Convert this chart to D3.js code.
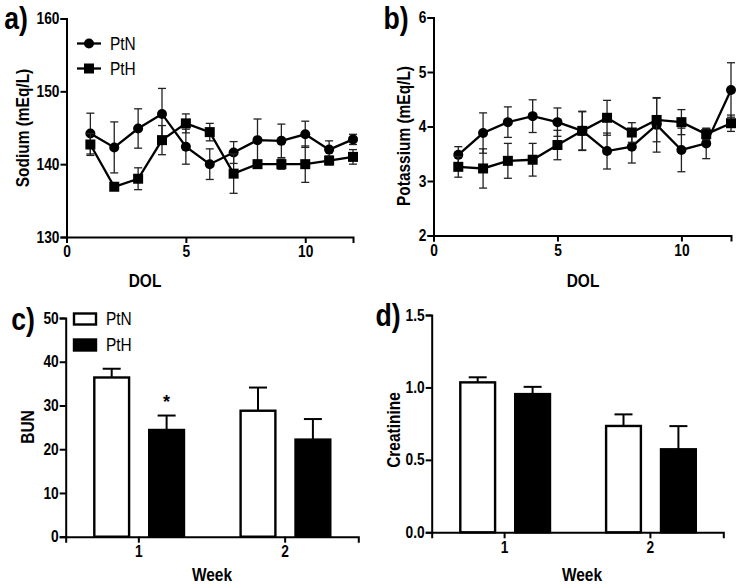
<!DOCTYPE html>
<html>
<head>
<meta charset="utf-8">
<script src="https://cdn.jsdelivr.net/npm/d3@7/dist/d3.min.js"></script>
<style>
  body { margin: 0; background: #fff; }
  svg { display: block; font-family: "Liberation Sans", Arial, sans-serif; }
  .axis path, .axis line { stroke: #000; stroke-width: 2px; }
</style>
</head>
<body>
<svg id="fig" width="739" height="586"></svg>
<script>
// day of life
const dol = [1, 2, 3, 4, 5, 6, 7, 8, 9, 10, 11, 12];

// a) sodium
const naPtN    = [144.2, 142.3, 144.9, 146.9, 142.4, 140.0, 141.6, 143.3, 143.2, 144.1, 142.0, 143.4];
const naPtNErr = [2.8, 3.5, 2.7, 3.5, 2.4, 2.1, 1.5, 2.9, 2.3, 1.8, 1.2, 0.7];
const naPtH    = [142.7, 136.9, 138.0, 143.3, 145.6, 144.4, 138.7, 140.0, 140.0, 140.0, 140.5, 141.0];
const naPtHErr = [1.5, 0.3, 1.5, 2.0, 1.3, 1.2, 2.7, 0.5, 0.7, 2.5, 0.6, 1.0];

// b) potassium
const kPtN    = [3.48, 3.88, 4.08, 4.19, 4.08, 3.92, 3.55, 3.63, 4.03, 3.57, 3.69, 4.67];
const kPtNErr = [0.15, 0.37, 0.28, 0.30, 0.26, 0.36, 0.33, 0.30, 0.50, 0.40, 0.28, 0.50];
const kPtH    = [3.26, 3.23, 3.37, 3.39, 3.66, 3.92, 4.16, 3.89, 4.12, 4.08, 3.86, 4.06];
const kPtHErr = [0.19, 0.36, 0.32, 0.30, 0.27, 0.35, 0.32, 0.18, 0.40, 0.23, 0.10, 0.15];

// c), d) weekly bars
const weeks = ["1", "2"];
const groups = ["PtN", "PtH"];
const bunPtN = [36.4, 28.8], bunPtNErr = [2.0, 5.3];
const bunPtH = [24.4, 22.2], bunPtHErr = [3.3, 4.7];
const crPtN = [1.035, 0.734], crPtNErr = [0.035, 0.08];
const crPtH = [0.954, 0.573], crPtHErr = [0.05, 0.16];

const svg = d3.select("#fig");
const SX = 0.86; // text in the figure is a bit narrow

function narrowText(sel) {
    sel.each(function() {
        let t = d3.select(this);
        let x = +t.attr("x") || 0;
        t.attr("x", x / SX).attr("transform", "scale(" + SX + ",1)")
            .style("font-size", "16px").style("font-weight", "bold").style("fill", "#000");
    });
}

function addLabel(txt, x, y, size, rot, weight) {
    let g = svg.append("g").attr("transform", "translate(" + x + "," + y + ")" + (rot ? " rotate(-90)" : ""));
    g.append("text")
        .text(txt)
        .attr("text-anchor", "middle")
        .attr("transform", "scale(" + SX + ",1)")
        .style("font-size", size + "px")
        .style("font-weight", weight || "bold")
        .style("fill", "#000");
}

function drawAxes(x, y, yTicks, yFmt, xAxis) {
    let xr = x.range(), yr = y.range();
    svg.append("g")
        .attr("class", "axis")
        .attr("transform", "translate(0," + yr[0] + ")")
        .call(xAxis.tickSizeOuter(0).tickSize(6).tickPadding(3))
        .selectAll("text").call(narrowText);
    svg.append("g")
        .attr("class", "axis")
        .attr("transform", "translate(" + xr[0] + ",0)")
        .call(d3.axisLeft(y).tickValues(yTicks).tickFormat(yFmt).tickSizeOuter(0).tickSize(6).tickPadding(1))
        .selectAll("text").call(narrowText);
}

function lineSeries(x, y, vals, errs, shape) {
    let pts = dol.map(function(d, i) { return {d: d, v: vals[i], e: errs[i]}; });
    let g = svg.append("g");
    // error bars
    let eb = g.selectAll("g.eb").data(pts).enter().append("g")
        .attr("stroke", "#222").attr("stroke-width", 1.3);
    eb.append("line")
        .attr("x1", function(p) { return x(p.d); }).attr("x2", function(p) { return x(p.d); })
        .attr("y1", function(p) { return y(p.v - p.e); }).attr("y2", function(p) { return y(p.v + p.e); });
    [-1, 1].forEach(function(s) {
        eb.append("line")
            .attr("x1", function(p) { return x(p.d) - 4; }).attr("x2", function(p) { return x(p.d) + 4; })
            .attr("y1", function(p) { return y(p.v + s * p.e); }).attr("y2", function(p) { return y(p.v + s * p.e); });
    });
    g.append("path")
        .datum(pts)
        .attr("fill", "none").attr("stroke", "#000").attr("stroke-width", 2.3)
        .attr("d", d3.line().x(function(p) { return x(p.d); }).y(function(p) { return y(p.v); }));
    if (shape == "circle") {
        g.selectAll("circle").data(pts).enter().append("circle")
            .attr("cx", function(p) { return x(p.d); }).attr("cy", function(p) { return y(p.v); })
            .attr("r", 5).attr("fill", "#000");
    } else {
        g.selectAll("rect").data(pts).enter().append("rect")
            .attr("x", function(p) { return x(p.d) - 5; }).attr("y", function(p) { return y(p.v) - 5; })
            .attr("width", 10).attr("height", 10).attr("fill", "#000");
    }
}

function barChart(x, y, sub, ptn, ptnErr, pth, pthErr) {
    let rows = [];
    weeks.forEach(function(w, i) {
        rows.push({w: w, grp: "PtN", v: ptn[i], e: ptnErr[i]});
        rows.push({w: w, grp: "PtH", v: pth[i], e: pthErr[i]});
    });
    let bx = function(r) { return x(r.w) + sub(r.grp); };
    let bw = sub.bandwidth();
    let g = svg.append("g");
    g.selectAll("line.err").data(rows).enter().append("line")
        .attr("x1", function(r) { return bx(r) + bw / 2; }).attr("x2", function(r) { return bx(r) + bw / 2; })
        .attr("y1", function(r) { return y(r.v); }).attr("y2", function(r) { return y(r.v + r.e); })
        .attr("stroke", "#000").attr("stroke-width", 2);
    g.selectAll("line.cap").data(rows).enter().append("line")
        .attr("x1", function(r) { return bx(r) + bw / 2 - 9; }).attr("x2", function(r) { return bx(r) + bw / 2 + 9; })
        .attr("y1", function(r) { return y(r.v + r.e); }).attr("y2", function(r) { return y(r.v + r.e); })
        .attr("stroke", "#000").attr("stroke-width", 2);
    g.selectAll("rect").data(rows).enter().append("rect")
        .attr("x", function(r) { return bx(r) + 1; })
        .attr("y", function(r) { return y(r.v); })
        .attr("width", bw - 2)
        .attr("height", function(r) { return y(0) - y(r.v); })
        .attr("fill", function(r) { return r.grp == "PtN" ? "#fff" : "#000"; })
        .attr("stroke", "#000").attr("stroke-width", 2.4);
}

// ---- a) Sodium
let xa = d3.scaleLinear().domain([0, 12]).range([66.5, 353]);
let ya = d3.scaleLinear().domain([130, 160]).range([237, 18.5]);
drawAxes(xa, ya, [130, 140, 150, 160], d3.format("d"), d3.axisBottom(xa).tickValues([0, 5, 10]));
lineSeries(xa, ya, naPtN, naPtNErr, "circle");
lineSeries(xa, ya, naPtH, naPtHErr, "square");
addLabel("Sodium (mEq/L)", 29, 128, 18, true);
addLabel("DOL", 145, 287, 18);
addLabel("a)", 16, 29, 31);

// legend a
let legA = svg.append("g");
groups.forEach(function(gname, i) {
    let ly = 43.5 + i * 25;
    legA.append("line").attr("x1", 77).attr("x2", 101).attr("y1", ly).attr("y2", ly)
        .attr("stroke", "#000").attr("stroke-width", 2.3);
    if (i == 0) legA.append("circle").attr("cx", 89).attr("cy", ly).attr("r", 5);
    else legA.append("rect").attr("x", 84).attr("y", ly - 5).attr("width", 10).attr("height", 10);
    legA.append("text").text(gname).attr("x", 110 / SX).attr("y", ly + 6.5)
        .attr("transform", "scale(" + SX + ",1)")
        .style("font-size", "18px").style("fill", "#000");
});

// ---- b) Potassium
let xb = d3.scaleLinear().domain([0, 12]).range([433.5, 731]);
let yb = d3.scaleLinear().domain([2, 6]).range([235.5, 17.5]);
drawAxes(xb, yb, [2, 3, 4, 5, 6], d3.format("d"), d3.axisBottom(xb).tickValues([0, 5, 10]));
lineSeries(xb, yb, kPtN, kPtNErr, "circle");
lineSeries(xb, yb, kPtH, kPtHErr, "square");
addLabel("Potassium (mEq/L)", 410, 136, 18, true);
addLabel("DOL", 583, 287, 18);
addLabel("b)", 396, 29, 31);

// ---- c) BUN
let xc = d3.scaleBand().domain(weeks).range([65.7, 358.3]);
let sc = d3.scaleBand().domain(groups).range([27.6, 119.3]).paddingInner(0.33);
let yc = d3.scaleLinear().domain([0, 50]).range([536.7, 318]);
drawAxes(xc, yc, [0, 10, 20, 30, 40, 50], d3.format("d"), d3.axisBottom(xc));
barChart(xc, yc, sc, bunPtN, bunPtNErr, bunPtH, bunPtHErr);
addLabel("BUN", 34, 427, 18, true);
addLabel("Week", 212, 581, 18);
addLabel("c)", 23, 330, 31);
svg.append("text").text("*").attr("x", xc("1") + sc("PtH") + sc.bandwidth() / 2).attr("y", yc(bunPtH[0] + bunPtHErr[0]) - 8)
    .attr("text-anchor", "middle").style("font-size", "18px").style("font-weight", "bold");

// legend c
groups.forEach(function(gname, i) {
    let ly = 319 + i * 26;
    svg.append("rect").attr("x", 74).attr("y", ly - 5.5).attr("width", 22).attr("height", 11)
        .attr("fill", i == 0 ? "#fff" : "#000").attr("stroke", "#000").attr("stroke-width", 2.4);
    svg.append("text").text(gname).attr("x", 106 / SX).attr("y", ly + 6.5)
        .attr("transform", "scale(" + SX + ",1)")
        .style("font-size", "18px").style("fill", "#000");
});

// ---- d) Creatinine
let xd = d3.scaleBand().domain(weeks).range([431.7, 723.3]);
let sd = d3.scaleBand().domain(groups).range([27.6, 119.3]).paddingInner(0.33);
let yd = d3.scaleLinear().domain([0, 1.5]).range([532.3, 315]);
drawAxes(xd, yd, [0, 0.5, 1.0, 1.5], d3.format(".1f"), d3.axisBottom(xd));
barChart(xd, yd, sd, crPtN, crPtNErr, crPtH, crPtHErr);
addLabel("Creatinine", 400, 430, 18, true);
addLabel("Week", 582, 581, 18);
addLabel("d)", 388, 326, 31);
</script>
</body>
</html>
